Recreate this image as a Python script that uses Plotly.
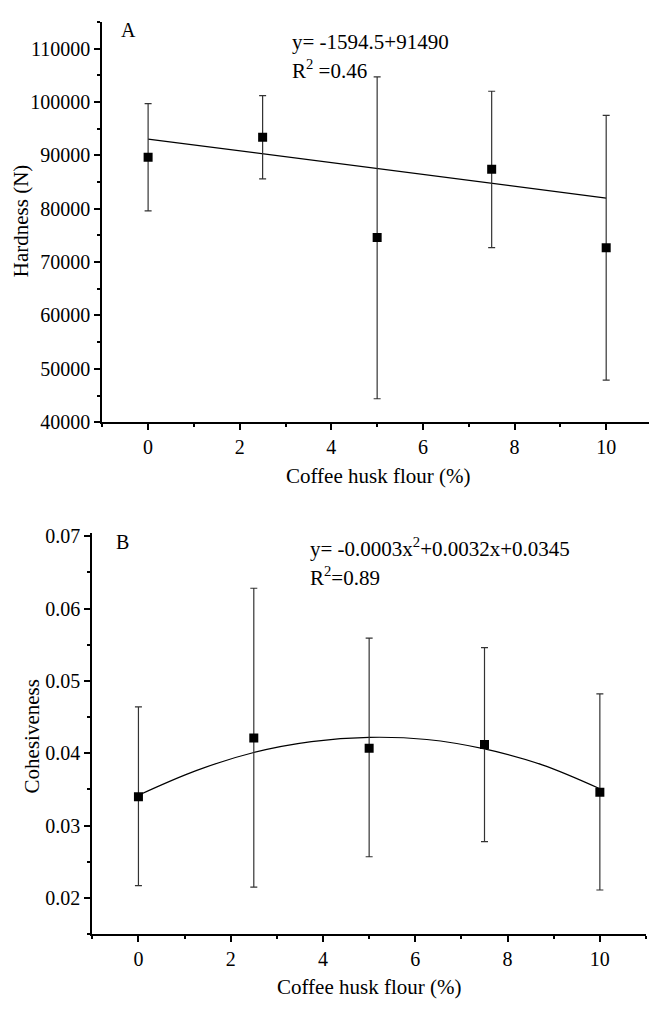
import plotly.graph_objects as go

# ---------------- data ----------------
flour_pct = [0, 2.5, 5, 7.5, 10]

hardness_mean = [89650, 93400, 74600, 87400, 72700]
hardness_upper = [99700, 101200, 104700, 102000, 97500]
hardness_lower = [79600, 85600, 44400, 72700, 47900]
hardness_fit_x = [0, 10]
hardness_fit_y = [93050, 82000]

cohes_mean = [0.0340, 0.0421, 0.0407, 0.0412, 0.0346]
cohes_upper = [0.0464, 0.0628, 0.0559, 0.0546, 0.0482]
cohes_lower = [0.0217, 0.0215, 0.0257, 0.0278, 0.0211]
cohes_fit_x = [0, 1.25, 2.5, 3.75, 5, 6.25, 7.5, 8.75, 10]
cohes_fit_y = [0.0342, 0.0376, 0.0401, 0.0416, 0.0422, 0.0419, 0.0406, 0.0384, 0.0351]

x_ticks = [0, 2, 4, 6, 8, 10]
x_ticklabels = ["0", "2", "4", "6", "8", "10"]
hardness_ticks = [40000, 50000, 60000, 70000, 80000, 90000, 100000, 110000]
hardness_ticklabels = ["40000", "50000", "60000", "70000", "80000", "90000", "100000", "110000"]
cohes_ticks = [0.02, 0.03, 0.04, 0.05, 0.06, 0.07]
cohes_ticklabels = ["0.02", "0.03", "0.04", "0.05", "0.06", "0.07"]

# ---------------- figure ----------------
# the page body keeps its default 8px margin, so page pixel p maps to figure pixel p - 8
OFF = 8
W, H = 657 - OFF, 1009 - OFF
FONT = "Liberation Serif"
FS = 20

def px_x(p):
    return (p - OFF) / W

def px_y(p):
    return 1 - (p - OFF) / H

fig = go.Figure()

def err(mean, up, lo):
    return ([u - m for u, m in zip(up, mean)], [m - l for m, l in zip(mean, lo)])

hu, hl = err(hardness_mean, hardness_upper, hardness_lower)
cu, cl = err(cohes_mean, cohes_upper, cohes_lower)

fig.add_trace(go.Scatter(x=hardness_fit_x, y=hardness_fit_y, mode="lines",
                         line=dict(color="black", width=1.2),
                         xaxis="x", yaxis="y", showlegend=False))
fig.add_trace(go.Scatter(x=flour_pct, y=hardness_mean, mode="markers",
                         marker=dict(symbol="square", size=9, color="black"),
                         error_y=dict(type="data", symmetric=False, array=hu, arrayminus=hl,
                                      color="#333333", thickness=1.2, width=3.5),
                         xaxis="x", yaxis="y", showlegend=False))

fig.add_trace(go.Scatter(x=cohes_fit_x, y=cohes_fit_y, mode="lines",
                         line=dict(color="black", width=1.2, shape="spline"),
                         xaxis="x2", yaxis="y2", showlegend=False))
fig.add_trace(go.Scatter(x=flour_pct, y=cohes_mean, mode="markers",
                         marker=dict(symbol="square", size=9, color="black"),
                         error_y=dict(type="data", symmetric=False, array=cu, arrayminus=cl,
                                      color="#333333", thickness=1.2, width=3.5),
                         xaxis="x2", yaxis="y2", showlegend=False))

def axis(**kw):
    d = dict(showline=True, linecolor="black", linewidth=2, showgrid=False,
             zeroline=False, ticks="outside", ticklen=6, tickwidth=1.5,
             tickcolor="black", mirror=False, tickmode="array",
             tickfont=dict(family=FONT, size=FS, color="black"))
    d.update(kw)
    return d

def minor(step):
    return dict(dtick=step, tick0=0, ticklen=3, tickwidth=1.5,
                tickcolor="black", ticks="outside", showgrid=False)

fig.update_layout(
    width=W, height=H,
    margin=dict(l=0, r=0, t=0, b=0),
    font=dict(family=FONT, size=FS, color="black"),
    paper_bgcolor="white", plot_bgcolor="white",
    xaxis=axis(domain=[px_x(102.3), px_x(652)], range=[-1, 11], anchor="y",
               tickvals=x_ticks, ticktext=x_ticklabels, minor=minor(1)),
    yaxis=axis(domain=[px_y(422.7), px_y(15)], range=[40000, 115000], anchor="x",
               tickvals=hardness_ticks, ticktext=hardness_ticklabels, minor=minor(5000)),
    xaxis2=axis(domain=[px_x(92.3), px_x(646)], range=[-1, 11], anchor="y2",
                tickvals=x_ticks, ticktext=x_ticklabels, minor=minor(1)),
    yaxis2=axis(domain=[px_y(944), px_y(535)], range=[0.015, 0.0705], anchor="x2",
                tickvals=cohes_ticks, ticktext=cohes_ticklabels, minor=minor(0.005)),
)

def ann(text, x, y, size=FS, angle=0, xanchor="center"):
    fig.add_annotation(text=text, x=px_x(x), y=px_y(y), xref="paper", yref="paper",
                       showarrow=False, textangle=angle, xanchor=xanchor, yanchor="middle",
                       font=dict(family=FONT, size=size, color="black"))

# axis titles
ann("Hardness (N)", 21, 218, size=21, angle=-90)
ann("Coffee husk flour (%)", 378, 477, size=21)
ann("Cohesiveness", 31.6, 743, size=21, angle=-90)
ann("Coffee husk flour (%)", 369, 998, size=21)

# panel labels and equations
ann("A", 128, 23)
ann("y= -1594.5+91490", 290, 35, size=21, xanchor="left")
ann("R<sup>2</sup> =0.46", 290, 64, size=21, xanchor="left")
ann("B", 122.7, 545)
ann("y= -0.0003x<sup>2</sup>+0.0032x+0.0345", 308, 550, size=21, xanchor="left")
ann("R<sup>2</sup>=0.89", 308, 580, size=21, xanchor="left")

fig.write_html("out.html")
